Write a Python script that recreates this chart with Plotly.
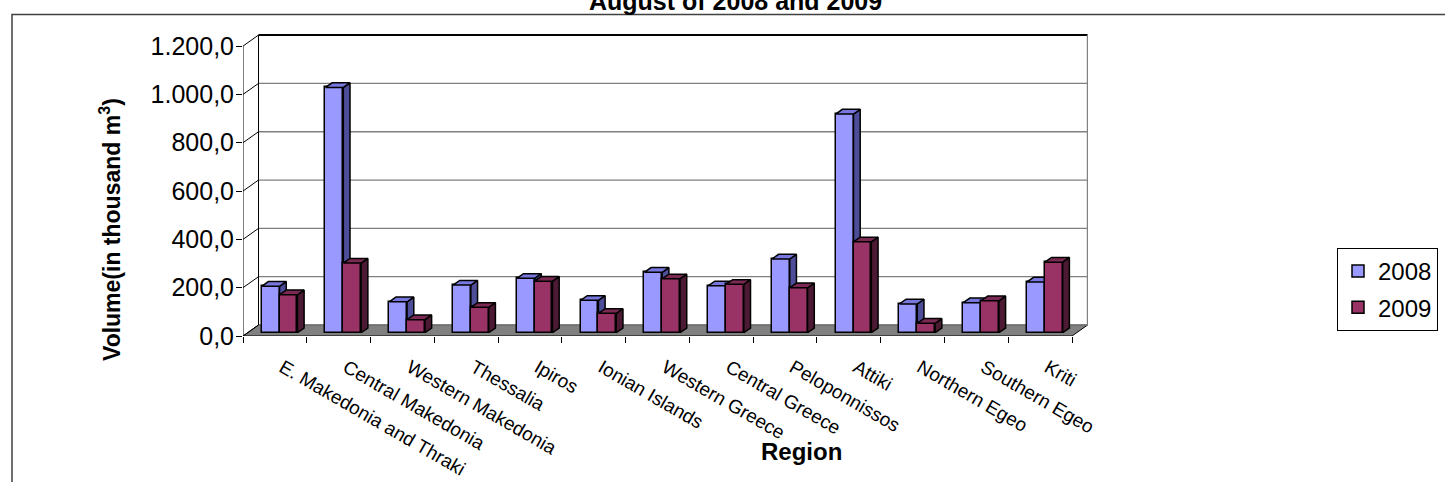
import plotly.graph_objects as go

# ---------------- data ----------------
regions = ["E. Makedonia and Thraki", "Central Makedonia", "Western Makedonia",
           "Thessalia", "Ipiros", "Ionian Islands", "Western Greece",
           "Central Greece", "Peloponnissos", "Attiki", "Northern Egeo",
           "Southern Egeo", "Kriti"]
v2008 = [192, 1015, 128, 197, 225, 134, 250, 194, 305, 905, 119, 124, 210]
v2009 = [157, 288, 54, 105, 213, 80, 223, 200, 186, 376, 39, 132, 292]
y_ticks = [0, 200, 400, 600, 800, 1000, 1200]
y_ticktext = ["0,0", "200,0", "400,0", "600,0", "800,0", "1.000,0", "1.200,0"]
series_names = ["2008", "2009"]

# ---------------- geometry / style ----------------
W, H = 1445, 482
ML, MR, MT, MB = 243, 357, 34, 146
XR = [-0.5, 12.75]
YR = [0, 1250]
WALL_DX, WALL_DY = 0.243, 45.5        # depth of the floor / walls
BAR_DX0, BAR_BASE = 0.073, 13.7       # front plane of the bars
BAR_DX, BAR_DY = 0.105, 19.4          # bar depth
BAR_W = 0.28
LABEL_SHIFT = 0.12
FONT = "Liberation Sans, Arial, sans-serif"

colors = {
    "2008": dict(front="#9999FF", top="#7777DD", side="#4D4D99"),
    "2009": dict(front="#993366", top="#7A2952", side="#4D1A33"),
}

n = len(regions)
idx = list(range(n))
fig = go.Figure()

# ---------------- walls & floor (main subplot) ----------------
x_left = XR[0]
x_right = n - 0.5
fig.add_trace(go.Scatter(
    x=[x_left, x_right, x_right + WALL_DX, x_left + WALL_DX, x_left],
    y=[0, 0, WALL_DY, WALL_DY, 0],
    fill="toself", fillcolor="#808080", mode="lines",
    line=dict(color="#000000", width=1), showlegend=False, hoverinfo="skip"))
gx, gy = [], []
for v in y_ticks[:-1]:
    gx += [x_left + WALL_DX, x_right + WALL_DX, None]
    gy += [v + WALL_DY, v + WALL_DY, None]
fig.add_trace(go.Scatter(x=gx, y=gy, mode="lines",
                         line=dict(color="#808080", width=1.3),
                         showlegend=False, hoverinfo="skip"))
fig.add_trace(go.Scatter(x=[x_left + WALL_DX, x_right + WALL_DX],
                         y=[y_ticks[-1] + WALL_DY] * 2, mode="lines",
                         line=dict(color="#000000", width=2),
                         showlegend=False, hoverinfo="skip"))
fig.add_trace(go.Scatter(x=[x_right + WALL_DX] * 2,
                         y=[WALL_DY, y_ticks[-1] + WALL_DY], mode="lines",
                         line=dict(color="#808080", width=1.5),
                         showlegend=False, hoverinfo="skip"))
sx, sy = [x_left, x_left, None, x_left + WALL_DX, x_left + WALL_DX, None], \
         [0, y_ticks[-1], None, WALL_DY, y_ticks[-1] + WALL_DY, None]
for v in y_ticks:
    sx += [x_left, x_left + WALL_DX, None]
    sy += [v, v + WALL_DY, None]
fig.add_trace(go.Scatter(x=sx, y=sy, mode="lines",
                         line=dict(color="#000000", width=1),
                         showlegend=False, hoverinfo="skip"))

# ---------------- bars ----------------
def add_series(name, vals, offset, axn):
    c = colors[name]
    xa, ya = "x%d" % axn, "y%d" % axn
    fig.add_trace(go.Bar(
        x=idx, y=vals, base=BAR_BASE, width=BAR_W, offset=offset,
        name=name, legendgroup=name,
        marker=dict(color=c["front"], line=dict(color="#000000", width=1.5)),
        xaxis=xa, yaxis=ya, showlegend=True))
    tx, ty, sx_, sy_ = [], [], [], []
    for i, v in zip(idx, vals):
        x0 = i + offset
        x1 = x0 + BAR_W
        top = BAR_BASE + v
        tx += [x0, x1, x1 + BAR_DX, x0 + BAR_DX, x0, None]
        ty += [top, top, top + BAR_DY, top + BAR_DY, top, None]
        sx_ += [x1, x1 + BAR_DX, x1 + BAR_DX, x1, x1, None]
        sy_ += [BAR_BASE, BAR_BASE + BAR_DY, top + BAR_DY, top, BAR_BASE, None]
    fig.add_trace(go.Scatter(x=sx_, y=sy_, fill="toself", fillcolor=c["side"],
                             mode="lines", line=dict(color="#000000", width=1.5),
                             xaxis=xa, yaxis=ya, showlegend=False, hoverinfo="skip"))
    fig.add_trace(go.Scatter(x=tx, y=ty, fill="toself", fillcolor=c["top"],
                             mode="lines", line=dict(color="#000000", width=1.5),
                             xaxis=xa, yaxis=ya, showlegend=False, hoverinfo="skip"))

add_series("2008", v2008, BAR_DX0 - BAR_W, 2)
add_series("2009", v2009, BAR_DX0, 3)

# ---------------- axes ----------------
hidden = dict(range=XR, showgrid=False, zeroline=False, showline=False,
              fixedrange=True)
fig.update_layout(
    width=W, height=H,
    margin=dict(l=ML, r=MR, t=MT, b=MB, autoexpand=False),
    paper_bgcolor="white", plot_bgcolor="rgba(0,0,0,0)",
    font=dict(family=FONT, color="black", size=24),
    bargap=0, barmode="overlay",
    xaxis=dict(range=XR, tickmode="array", tickvals=[i + LABEL_SHIFT for i in idx],
               ticktext=regions, tickangle=30, ticks="", showgrid=False,
               zeroline=False, showline=False, ticklabelstandoff=16,
               tickfont=dict(family=FONT, size=19), fixedrange=True),
    yaxis=dict(range=YR, tickmode="array", tickvals=y_ticks, ticktext=y_ticktext,
               ticks="outside", ticklen=6, tickcolor="black", tickwidth=1,
               showgrid=False, zeroline=False, showline=False,
               ticklabelstandoff=-3, tickfont=dict(size=25), fixedrange=True),
    xaxis2=dict(overlaying="x", anchor="y", tickmode="array",
                tickvals=[i - 0.5 for i in range(n + 1)], ticks="outside",
                ticklen=6, tickcolor="black", showticklabels=False, **hidden),
    yaxis2=dict(overlaying="y", range=YR, visible=False, fixedrange=True),
    xaxis3=dict(overlaying="x", anchor="y", visible=False, **hidden),
    yaxis3=dict(overlaying="y", range=YR, visible=False, fixedrange=True),
    legend=dict(x=(1337 - ML) / (W - ML - MR), y=(H - MB - 248) / (H - MB - MT),
                xanchor="left", yanchor="top", bordercolor="black",
                borderwidth=1, bgcolor="white", font=dict(size=24),
                traceorder="grouped", tracegroupgap=2),
    showlegend=True,
)

PW, PH = W - ML - MR, H - MT - MB
def px(x):
    return (x - ML) / PW
def py(y):
    return (H - MB - y) / PH

fig.add_annotation(text="<b>August of 2008 and 2009</b>", xref="paper", yref="paper",
                   x=px(735), y=py(1), xanchor="center", yanchor="middle",
                   showarrow=False, font=dict(size=25))
fig.add_annotation(text="<b>Region</b>", xref="paper", yref="paper",
                   x=px(801), y=py(451), xanchor="center", yanchor="middle",
                   showarrow=False, font=dict(size=24))
fig.add_annotation(text="<b>Volume(in thousand m<sup>3</sup>)</b>", xref="paper",
                   yref="paper", x=px(110), y=py(230), xanchor="center",
                   yanchor="middle", textangle=-90, showarrow=False,
                   font=dict(size=23))
fig.add_shape(type="rect", xref="paper", yref="paper",
              x0=px(12), x1=px(1470), y0=py(495), y1=py(14.5),
              line=dict(color="#404040", width=1.5), layer="below")

fig.write_html("out.html", config={"displayModeBar": False},
               post_script="document.body.style.margin='0';"
                           "document.body.style.overflow='hidden';")
